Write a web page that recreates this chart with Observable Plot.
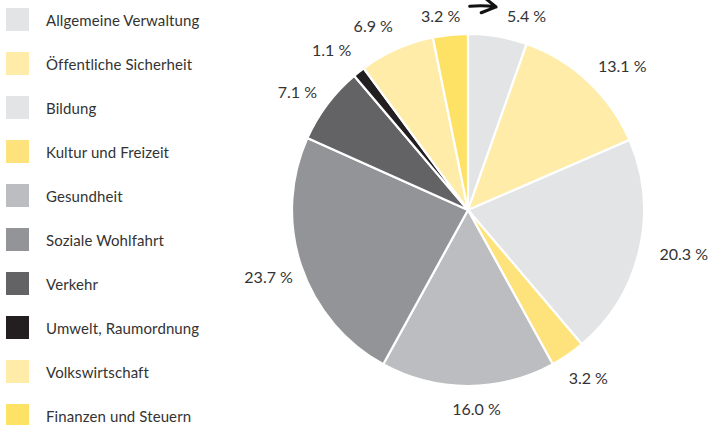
<!DOCTYPE html>
<html>
<head>
<meta charset="utf-8">
<script src="https://cdn.jsdelivr.net/npm/d3@7"></script>
<script src="https://cdn.jsdelivr.net/npm/@observablehq/plot@0.6"></script>
<style>
  body { margin: 0; background: #fff; font-family: Lato, "Open Sans", sans-serif; }
  #wrap { position: relative; width: 710px; height: 425px; overflow: hidden; }
  #chart, #legend { position: absolute; left: 0; top: 0; }
  .item { position: absolute; left: 6px; height: 23px; display: flex; align-items: center; }
  .sw { width: 23px; height: 23px; flex: none; }
  .lab { margin-left: 17px; font-size: 15px; color: #333; white-space: nowrap; letter-spacing: 0.1px; }
</style>
</head>
<body>
<div id="wrap"><div id="chart"></div><div id="legend"></div></div>
<script>
// ---- data ----
const categories = [
  "Allgemeine Verwaltung",
  "Öffentliche Sicherheit",
  "Bildung",
  "Kultur und Freizeit",
  "Gesundheit",
  "Soziale Wohlfahrt",
  "Verkehr",
  "Umwelt, Raumordnung",
  "Volkswirtschaft",
  "Finanzen und Steuern"
];
const shares = [5.4, 13.1, 20.3, 3.2, 16.0, 23.7, 7.1, 1.1, 6.9, 3.2];
const valueLabels = ["5.4 %", "13.1 %", "20.3 %", "3.2 %", "16.0 %", "23.7 %", "7.1 %", "1.1 %", "6.9 %", "3.2 %"];
const palette = ["#e3e4e6", "#feeca8", "#e3e4e6", "#fee37c", "#bcbdc0", "#939497", "#636366", "#231f20", "#feeca8", "#fee266"];

// ---- layout (pixel nudges of the value labels) ----
const labelRadius = 1.18;
const labelNudge = {
  "Allgemeine Verwaltung": [23, 11],
  "Öffentliche Sicherheit": [12, 8],
  "Bildung": [13, -3],
  "Kultur und Freizeit": [2, -3],
  "Gesundheit": [8, -8],
  "Soziale Wohlfahrt": [-3, 1],
  "Verkehr": [-5, 7],
  "Umwelt, Raumordnung": [-8, 3],
  "Volkswirtschaft": [-11, 6],
  "Finanzen und Steuern": [-7, 13]
};
const R = 176; // pie radius in px
const cx = 468, cy = 210;

const data = categories.map((c, i) => ({category: c, value: shares[i], label: valueLabels[i]}));
const arcs = d3.pie().sort(null).value(d => d.value)(data);
const labels = arcs.map(a => {
  const mid = (a.startAngle + a.endAngle) / 2;
  const [nx, ny] = labelNudge[a.data.category];
  return {
    category: a.data.category,
    label: a.data.label,
    x: Math.sin(mid) * labelRadius + nx / R,
    y: -Math.cos(mid) * labelRadius + ny / R
  };
});
const lab = Object.fromEntries(labels.map(d => [d.category, d]));
const arrowData = [{
  x1: lab["Finanzen und Steuern"].x, y1: lab["Finanzen und Steuern"].y - 3 / R,
  x2: lab["Allgemeine Verwaltung"].x, y2: lab["Allgemeine Verwaltung"].y
}];

function pieSlices(index, scales, values, dimensions, context) {
  const color = scales.color || d3.scaleOrdinal(categories, palette);
  const x0 = scales.x(0), y0 = scales.y(0), r = scales.x(1) - scales.x(0);
  const arc = d3.arc().innerRadius(0).outerRadius(r);
  const g = d3.create("svg:g").attr("transform", `translate(${x0},${y0})`);
  g.selectAll("path").data(arcs).join("path")
    .attr("d", arc)
    .attr("fill", d => color(d.data.category))
    .attr("stroke", "#fff")
    .attr("stroke-width", 2.2)
    .attr("stroke-linejoin", "round");
  return g.node();
}

const chart = Plot.plot({
  width: 710,
  height: 425,
  x: {domain: [-1, 1], range: [cx - R, cx + R], axis: null},
  y: {domain: [-1, 1], range: [cy - R, cy + R], axis: null},
  color: {type: "ordinal", domain: categories, range: palette},
  style: {fontFamily: "Lato, 'Open Sans', sans-serif", background: "transparent"},
  marks: [
    Plot.dot(data, {x: 0, y: 0, r: 0, fill: "category"}),
    pieSlices,
    Plot.text(labels, {x: "x", y: "y", text: "label", fontSize: 16, fill: "#333"}),
    Plot.arrow(arrowData, {x1: "x1", y1: "y1", x2: "x2", y2: "y2", bend: 25, insetStart: 30, insetEnd: 32, stroke: "#111", strokeWidth: 3, headLength: 8})
  ]
});
document.getElementById("chart").appendChild(chart);

// ---- legend, from the plot's colour scale ----
const colorScale = chart.scale("color");
const legend = d3.select("#legend");
colorScale.domain.forEach((c, i) => {
  const item = legend.append("div").attr("class", "item").style("top", (8 + i * 44) + "px");
  item.append("div").attr("class", "sw").style("background", colorScale.range[i]);
  item.append("div").attr("class", "lab").text(c);
});
</script>
</body>
</html>
